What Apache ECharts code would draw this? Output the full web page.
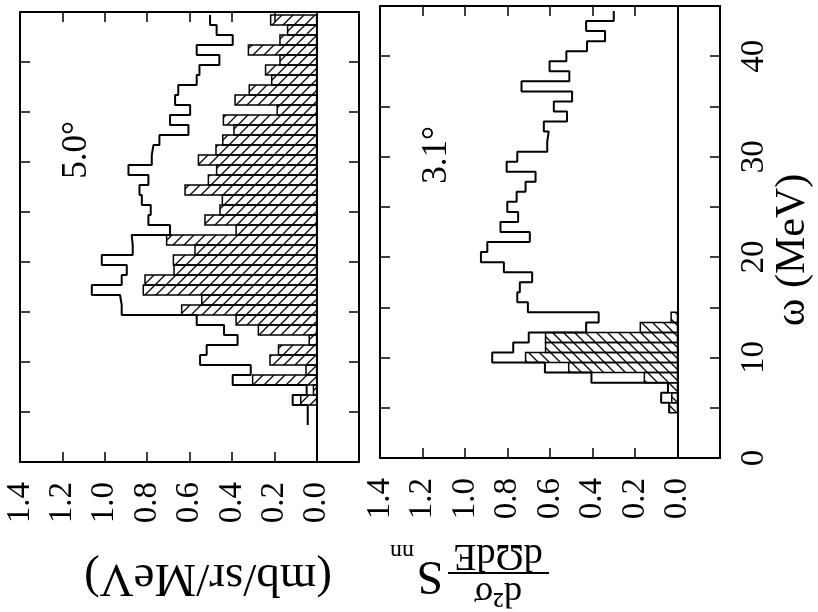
<!DOCTYPE html>
<html>
<head>
<meta charset="utf-8">
<script src="https://cdn.jsdelivr.net/npm/echarts@6/dist/echarts.min.js"></script>
<style>
html,body{margin:0;padding:0;background:#fff;}
#main{width:818px;height:612px;}
</style>
</head>
<body>
<div id="main"></div>
<script>
// 5.0 deg panel: open histogram and hatched part, 1 MeV bins
var open5Start = 3.7;
var open5 = [0.042, 0.042, 0.113, 0.047, 0.396, 0.311, 0.55, 0.519, 0.373, 0.437,
  0.566, 0.92, 0.928, 1.061, 0.92, 0.896, 1.014, 0.868, 0.873, 0.692,
  0.794, 0.783, 0.825, 0.836, 0.794, 0.888, 0.778, 0.77, 0.742, 0.605,
  0.692, 0.597, 0.668, 0.653, 0.566, 0.553, 0.459, 0.566, 0.396, 0.472, 0.503];
var hatch5Start = 5.7;
var hatch5 = [0.075, 0.015, 0.302, 0.05, 0.22, 0.18, 0.035, 0.275, 0.38, 0.637,
  0.542, 0.818, 0.81, 0.673, 0.676, 0.574, 0.708, 0.38, 0.527, 0.456,
  0.445, 0.621, 0.511, 0.472, 0.558, 0.475, 0.443, 0.39, 0.44, 0.186,
  0.385, 0.318, 0.212, 0.241, 0.173, 0.322, 0.173, 0.137, 0.217];

// 3.1 deg panel
var open3Start = 4.5;
var open3 = [0.039, 0.077, 0.045, 0.405, 0.624, 0.872, 0.773, 0.70, 0.43, 0.371,
  0.704, 0.754, 0.742, 0.684, 0.817, 0.925, 0.895, 0.695, 0.833, 0.75,
  0.801, 0.757, 0.715, 0.668, 0.804, 0.754, 0.613, 0.606, 0.629, 0.52,
  0.582, 0.496, 0.734, 0.509, 0.602, 0.523, 0.426, 0.341, 0.43, 0.30];
var hatch3Start = 4.5;
var hatch3 = [0.039, 0.027, 0.045, 0.156, 0.512, 0.715, 0.621, 0.621, 0.175, 0.03];

var xTicks = ['1.4', '1.2', '1.0', '0.8', '0.6', '0.4', '0.2', '0.0'];
var omegaLabels = [0, 10, 20, 30, 40];
var binW = 1;
var serif = '"Liberation Serif", "DejaVu Serif", serif';

var chart = echarts.init(document.getElementById('main'));

function makeHatch(dir, size) {
  var c = document.createElement('canvas');
  c.width = size; c.height = size;
  var g = c.getContext('2d');
  g.strokeStyle = '#000';
  g.lineWidth = 1.3;
  g.beginPath();
  if (dir > 0) {
    g.moveTo(-2, size + 2); g.lineTo(size + 2, -2);
    g.moveTo(-2, 2); g.lineTo(2, -2);
    g.moveTo(size - 2, size + 2); g.lineTo(size + 2, size - 2);
  } else {
    g.moveTo(-2, -2); g.lineTo(size + 2, size + 2);
    g.moveTo(size - 2, -2); g.lineTo(size + 2, 2);
    g.moveTo(-2, size - 2); g.lineTo(2, size + 2);
  }
  g.stroke();
  return c;
}

function stepPoints(start, vals) {
  var pts = [];
  for (var i = 0; i < vals.length; i++) {
    pts.push([vals[i], start + i * binW]);
    pts.push([vals[i], start + (i + 1) * binW]);
  }
  return pts;
}

function barData(start, vals) {
  return vals.map(function (v, i) { return [v, start + i * binW]; });
}

function barRender(pattern) {
  return function (params, api) {
    var v = api.value(0), lo = api.value(1);
    var a = api.coord([0, lo]);
    var b = api.coord([v, lo + binW]);
    return {
      type: 'rect',
      shape: {
        x: Math.min(a[0], b[0]), y: Math.min(a[1], b[1]),
        width: Math.abs(a[0] - b[0]), height: Math.abs(a[1] - b[1])
      },
      style: { fill: { image: pattern, repeat: 'repeat' }, stroke: '#000', lineWidth: 1.5 }
    };
  };
}

var axisLineStyle = { color: '#000', width: 2 };

function xAxes(g) {
  var base = {
    gridIndex: g, type: 'value', inverse: true, min: -0.2, max: 1.4, interval: 0.2,
    axisLine: { show: true, onZero: false, lineStyle: axisLineStyle },
    axisTick: { show: true, inside: true, length: 10, lineStyle: { color: '#000', width: 1.5 } },
    splitLine: { show: false }
  };
  var bottom = Object.assign({}, base, {
    position: 'bottom',
    axisLabel: {
      show: true, rotate: 90, margin: 20, color: '#000', fontFamily: serif, fontSize: 33,
      formatter: function (v) {
        var s = Math.abs(v).toFixed(1);
        return v < -0.01 ? '' : (xTicks.indexOf(s) >= 0 ? s : '');
      }
    }
  });
  var top = Object.assign({}, base, { position: 'top', axisLabel: { show: false } });
  return [bottom, top];
}

function yAxes(g, labels) {
  var base = {
    gridIndex: g, type: 'value', min: 0, max: 45, interval: 5,
    axisLine: { show: true, onZero: false, lineStyle: axisLineStyle },
    axisTick: { show: true, inside: true, length: 10, lineStyle: { color: '#000', width: 1.5 } },
    splitLine: { show: false }
  };
  var left = Object.assign({}, base, { position: 'left', axisLabel: { show: false } });
  var right = Object.assign({}, base, {
    position: 'right',
    axisLabel: {
      show: labels, rotate: 90, margin: 18, color: '#000', fontFamily: serif, fontSize: 33,
      formatter: function (v) { return omegaLabels.indexOf(v) >= 0 ? String(v) : ''; }
    }
  });
  return [left, right];
}

var zeroLine = {
  silent: true, symbol: 'none', label: { show: false },
  lineStyle: { color: '#000', type: 'solid', width: 2 },
  data: [{ xAxis: 0 }]
};

function txt(x, y, rot, text, size) {
  return {
    type: 'text', x: x, y: y, rotation: rot,
    style: {
      text: text, fill: '#000', font: size + 'px ' + serif,
      align: 'center', verticalAlign: 'middle', textAlign: 'center', textVerticalAlign: 'middle'
    }
  };
}

var option = {
  animation: false,
  backgroundColor: '#fff',
  grid: [
    { left: 20, top: 12, width: 339, height: 450 },
    { left: 380, top: 6, width: 340, height: 452 }
  ],
  xAxis: xAxes(0).concat(xAxes(1)),
  yAxis: yAxes(0, false).concat(yAxes(1, true)),
  series: [
    {
      type: 'custom', xAxisIndex: 0, yAxisIndex: 0,
      renderItem: barRender(makeHatch(1, 11)),
      data: barData(hatch5Start, hatch5), z: 2
    },
    {
      type: 'line', xAxisIndex: 0, yAxisIndex: 0, symbol: 'none',
      lineStyle: { color: '#000', width: 2 },
      data: stepPoints(open5Start, open5), z: 3,
      markLine: zeroLine
    },
    {
      type: 'custom', xAxisIndex: 2, yAxisIndex: 2,
      renderItem: barRender(makeHatch(-1, 11)),
      data: barData(hatch3Start, hatch3), z: 2
    },
    {
      type: 'line', xAxisIndex: 2, yAxisIndex: 2, symbol: 'none',
      lineStyle: { color: '#000', width: 2 },
      data: stepPoints(open3Start, open3), z: 3,
      markLine: zeroLine
    }
  ],
  graphic: [
    txt(77, 150, Math.PI / 2, '5.0°', 35),
    txt(437, 155, Math.PI / 2, '3.1°', 35),
    txt(793, 250, Math.PI / 2, 'ω (MeV)', 42),
    txt(208, 577, Math.PI, '(mb/sr/MeV)', 47),
    {
      type: 'group', x: 470, y: 575, rotation: Math.PI,
      children: [
        { type: 'line', shape: { x1: -79, y1: 2, x2: 22, y2: 2 }, style: { stroke: '#000', lineWidth: 2 } },
        txt(-28, -17, 0, 'd²σ', 36),
        txt(-28, 20, 0, 'dΩdE', 38),
        txt(40, 0, 0, 'S', 48),
        txt(68, 24, 0, 'nn', 24)
      ]
    }
  ]
};

chart.setOption(option);
</script>
</body>
</html>
